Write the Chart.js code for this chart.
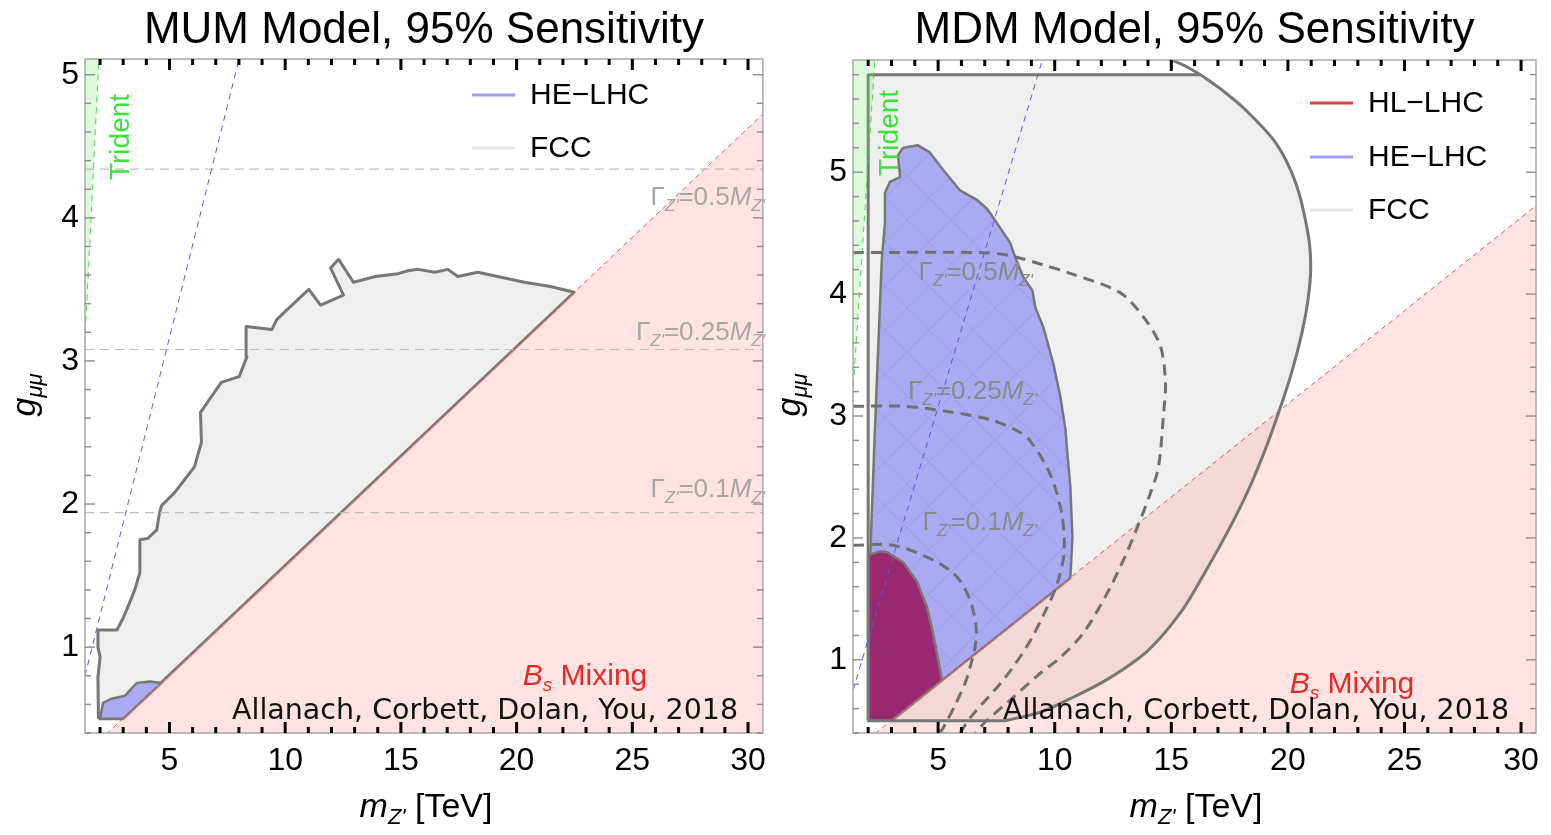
<!DOCTYPE html>
<html><head><meta charset="utf-8">
<script src="https://cdn.jsdelivr.net/npm/chart.js@4.4.1/dist/chart.umd.min.js"></script>
<style>
html,body{margin:0;padding:0;background:#fff;}
#wrap{position:relative;width:1551px;height:835px;overflow:hidden;background:#fff;}
#c1{position:absolute;left:0;top:0;}
#c2{position:absolute;left:775px;top:0;}
</style></head><body>
<div id="wrap"><canvas id="c1" width="775" height="835"></canvas><canvas id="c2" width="776" height="835"></canvas></div>
<script>
const FONT = '"Liberation Sans", Arial, sans-serif';

// ---------- axes ----------
const xRange = [1.35, 30.64];
const yRangeMUM = [0.40, 5.11];
const yRangeMDM = [0.40, 5.92];
const xTickValues = [5, 10, 15, 20, 25, 30];
const yTickValues = [1, 2, 3, 4, 5];
const titles = ['MUM Model, 95% Sensitivity', 'MDM Model, 95% Sensitivity'];
const legendMUM = ['HE\u2212LHC', 'FCC'];
const legendMDM = ['HL\u2212LHC', 'HE\u2212LHC', 'FCC'];

// ---------- MUM model (left) ----------
const mumFcc = [[1.93,0.50],[1.91,0.79],[2.00,0.93],[1.91,1.00],[1.91,1.12],[2.73,1.12],[2.99,1.20],[3.20,1.28],[3.50,1.40],[3.72,1.52],[3.72,1.75],[4.06,1.76],[4.45,1.82],[4.57,1.94],[4.66,1.99],[5.22,2.08],[5.65,2.17],[6.08,2.26],[6.38,2.43],[6.34,2.64],[7.24,2.85],[8.01,2.89],[8.35,3.03],[8.31,3.24],[9.43,3.22],[9.64,3.29],[11.02,3.50],[11.53,3.39],[12.52,3.46],[11.96,3.65],[12.31,3.71],[12.95,3.55],[13.90,3.59],[14.88,3.61],[15.31,3.63],[15.74,3.64],[16.47,3.62],[17.03,3.64],[17.46,3.59],[18.32,3.62],[19.18,3.59],[20.34,3.55],[21.46,3.52],[22.49,3.48],[3.00,0.50],[1.93,0.50]];
const mumHeLhc = [[2.00,0.50],[2.13,0.61],[2.51,0.64],[3.07,0.66],[3.59,0.75],[4.15,0.76],[4.66,0.75],[3.00,0.50],[2.00,0.50]];
const mumBs = [[2.0,0.35],[31.0,4.78]];
const mumTrident = [[1.0,5.3],[2.01,5.3],[1.35,3.15],[1.0,2.0]];
const mumHeDashed = [[1.35,0.80],[8.01,5.11]];
const mumWidth05 = [[1.35,4.34],[30.64,4.34]];
const mumWidth025 = [[1.35,3.08],[30.64,3.08]];
const mumWidth01 = [[1.35,1.94],[30.64,1.94]];

// ---------- MDM model (right) ----------
const mdmFcc = [[2.0,0.50],[2.0,5.80],[2.0,5.80],[16.25,5.80],[16.25,5.80],[17.20,5.67],[18.19,5.51],[19.48,5.24],[20.34,4.91],[20.86,4.50],[20.98,4.22],[20.86,3.95],[20.60,3.68],[20.15,3.35],[19.64,3.05],[19.02,2.72],[18.30,2.39],[17.47,2.07],[16.51,1.74],[15.48,1.41],[14.02,1.08],[12.26,0.84],[10.54,0.67],[9.38,0.57],[8.09,0.51],[7.80,0.50],[7.80,0.50],[2.0,0.50]];
const mdmFccCap = [[14.60,5.95],[15.50,5.88],[16.25,5.80]];
const mdmHeLhc = [[3.50,5.20],[4.14,5.22],[4.65,5.16],[5.21,5.02],[5.94,4.85],[6.68,4.77],[7.10,4.70],[7.53,4.58],[8.09,4.42],[8.31,4.30],[8.65,4.14],[9.04,4.03],[9.17,3.89],[9.51,3.73],[9.94,3.43],[10.24,3.16],[10.46,2.89],[10.54,2.70],[10.67,2.42],[10.76,2.01],[10.67,1.67],[3.00,0.50],[2.05,0.50],[2.10,1.90],[2.29,2.89],[2.45,3.65],[2.59,4.30],[2.72,4.58],[2.72,4.83],[2.93,4.92],[3.37,4.96],[3.28,5.14],[3.50,5.20]];
const mdmHlLhc = [[2.0,1.86],[2.50,1.89],[2.85,1.88],[3.50,1.80],[4.10,1.64],[4.53,1.43],[4.78,1.22],[5.00,1.00],[5.17,0.83],[3.00,0.50],[2.0,0.50],[2.0,1.86]];
const mdmBs = [[2.0,0.35],[31.0,4.78]];
const mdmTrident = [[1.0,6.1],[2.35,6.1],[1.35,3.2],[1.0,2.0]];
const mdmHeDashed = [[1.35,0.75],[9.47,5.92]];
const mdmWidth05 = [[1.35,4.34],[7.00,4.34],[8.20,4.31],[9.50,4.24],[10.67,4.17],[12.82,4.01],[13.89,3.79],[14.54,3.57],[14.75,3.27],[14.67,3.02],[14.45,2.58],[14.11,2.37],[13.55,2.09],[12.95,1.82],[12.26,1.55],[11.23,1.22],[10.24,1.02],[9.38,0.89],[8.09,0.67],[7.02,0.49],[6.60,0.40]];
const mdmWidth025 = [[1.35,3.08],[3.50,3.08],[5.30,3.04],[7.24,2.97],[8.38,2.88],[8.93,2.80],[9.79,2.53],[10.30,2.20],[10.40,1.88],[10.10,1.62],[9.60,1.40],[8.90,1.14],[7.90,0.86],[6.40,0.53],[5.94,0.40]];
const mdmWidth01 = [[1.35,1.94],[3.07,1.94],[4.78,1.82],[5.81,1.68],[6.37,1.49],[6.63,1.27],[6.59,1.11],[6.37,0.94],[6.16,0.81],[5.73,0.63],[5.30,0.47],[5.09,0.40]];

// ---------- text ----------
const widthLabels = [
  [{t:'\u0393'},{t:"Z'",sub:1,it:1},{t:'=0.5'},{t:'M',it:1},{t:"Z'",sub:1,it:1}],
  [{t:'\u0393'},{t:"Z'",sub:1,it:1},{t:'=0.25'},{t:'M',it:1},{t:"Z'",sub:1,it:1}],
  [{t:'\u0393'},{t:"Z'",sub:1,it:1},{t:'=0.1'},{t:'M',it:1},{t:"Z'",sub:1,it:1}]
];
const bsLabel = [{t:'B',it:1},{t:'s',it:1,sub:1},{t:' Mixing'}];
const creditLabel = [{t:'Allanach, Corbett, Dolan, You, 2018'}];
const tridentLabel = [{t:'Trident'}];
const xTitle = [{t:'m',it:1},{t:"Z'",it:1,sub:1},{t:' [TeV]'}];
const yTitle = [{t:'g',it:1},{t:'\u03bc\u03bc',it:1,sub:1}];

// ---------- helpers ----------
const P = arr => arr.map(([x, y]) => ({x, y}));
function area(pts, bg, bc, bw, order, extra) {
  return Object.assign({data:P(pts), showLine:true, fill:'shape', backgroundColor:bg, borderColor:bc,
    borderWidth:bw, pointRadius:0, tension:0, order:order, borderJoinStyle:'round'}, extra || {});
}
function curve(pts, color, bw, dash, order, extra) {
  return Object.assign({data:P(pts), showLine:true, fill:false, borderColor:color, borderWidth:bw,
    borderDash:dash, pointRadius:0, tension:0, order:order, backgroundColor:'rgba(0,0,0,0)', borderJoinStyle:'round'}, extra || {});
}
function hatch(base, line) {
  const c = document.createElement('canvas'); c.width = 44; c.height = 44;
  const g = c.getContext('2d');
  g.fillStyle = base; g.fillRect(0, 0, 44, 44);
  g.strokeStyle = line; g.lineWidth = 1;
  g.beginPath(); g.moveTo(0, 44); g.lineTo(44, 0); g.moveTo(-22, 22); g.lineTo(22, -22); g.moveTo(22, 66); g.lineTo(66, 22);
  g.moveTo(0, 0); g.lineTo(44, 44); g.moveTo(-22, 22); g.lineTo(22, 66); g.moveTo(22, -22); g.lineTo(66, 22); g.stroke();
  return g.createPattern(c, 'repeat');
}
function drawRich(ctx, segs, x, y, o) {
  const size = o.size, fam = o.family || FONT, sub = Math.round(size * 0.64);
  const fontOf = s => (s.it ? 'italic ' : '') + (s.sub ? sub : size) + 'px ' + fam;
  const ws = segs.map(s => { ctx.font = fontOf(s); return ctx.measureText(s.t).width; });
  const w = ws.reduce((a, b) => a + b, 0);
  let cx = o.align === 'right' ? x - w : (o.align === 'center' ? x - w / 2 : x);
  ctx.fillStyle = o.color || '#000'; ctx.textBaseline = 'middle'; ctx.textAlign = 'left';
  segs.forEach((s, i) => { ctx.font = fontOf(s); ctx.fillText(s.t, cx, y + (s.sub ? size * 0.3 : 0)); cx += ws[i]; });
}

const frameTicks = {
  id: 'frameTicks',
  afterDatasetsDraw(chart) {
    const {ctx, chartArea: a} = chart;
    const x = chart.scales.x, y = chart.scales.y;
    ctx.save();
    ctx.strokeStyle = '#a8a8a8'; ctx.lineWidth = 1.5;
    ctx.strokeRect(a.left, a.top, a.right - a.left, a.bottom - a.top);
    const seg = (x0, y0, x1, y1) => { ctx.beginPath(); ctx.moveTo(x0, y0); ctx.lineTo(x1, y1); ctx.stroke(); };
    ctx.strokeStyle = '#000'; ctx.lineWidth = 3; ctx.lineCap = 'butt';
    for (let v = Math.ceil(x.min); v <= x.max; v += 1) {
      const px = x.getPixelForValue(v), len = v % 5 === 0 ? 11 : 6;
      seg(px, a.top, px, a.top + len); seg(px, a.bottom, px, a.bottom - len);
    }
    ctx.strokeStyle = '#8c8c8c'; ctx.lineWidth = 1.4;
    for (let k = Math.ceil(y.min / 0.2 - 1e-6); k * 0.2 <= y.max + 1e-9; k++) {
      const v = k * 0.2, py = y.getPixelForValue(v);
      const len = Math.abs(v - Math.round(v)) < 1e-6 ? 10 : 6;
      seg(a.left, py, a.left + len, py); seg(a.right, py, a.right - len, py);
    }
    ctx.restore();
  }
};

const deco = {
  id: 'deco',
  afterDraw(chart, args, o) {
    const ctx = chart.ctx, a = chart.chartArea;
    ctx.save();
    ctx.font = '44px ' + FONT; ctx.fillStyle = '#000'; ctx.textAlign = 'center'; ctx.textBaseline = 'middle';
    ctx.fillText(o.title, (a.left + a.right) / 2, o.titleY);
    o.legend.forEach(it => {
      ctx.strokeStyle = it.color; ctx.lineWidth = 3;
      ctx.beginPath(); ctx.moveTo(o.legendX, it.y); ctx.lineTo(o.legendX + 43, it.y); ctx.stroke();
      ctx.font = '30px ' + FONT; ctx.fillStyle = '#000'; ctx.textAlign = 'left'; ctx.textBaseline = 'middle';
      ctx.fillText(it.label, o.legendX + 58, it.y + 1);
    });
    o.texts.forEach(t => {
      ctx.save(); ctx.translate(t.x, t.y); if (t.rot) ctx.rotate(t.rot);
      drawRich(ctx, t.segs, 0, 0, t); ctx.restore();
    });
    ctx.restore();
  }
};

function makeChart(id, c) {
  return new Chart(document.getElementById(id), {
    type: 'scatter',
    data: {datasets: c.datasets},
    options: {
      responsive: false, animation: false, events: [],
      layout: {padding: {top: c.padTop, right: c.padRight, left: 0, bottom: 0}},
      plugins: {legend: {display: false}, tooltip: {enabled: false}, title: {display: false}, deco: c.deco},
      scales: {
        x: {type: 'linear', min: xRange[0], max: xRange[1],
            afterBuildTicks: s => { s.ticks = xTickValues.map(v => ({value: v})); },
            afterFit: s => { s.height = 102; },
            grid: {display: false, drawTicks: false}, border: {display: false},
            ticks: {font: {family: FONT, size: 32}, color: '#000', padding: 9, maxRotation: 0, autoSkip: false}},
        y: {type: 'linear', min: c.yRange[0], max: c.yRange[1],
            afterBuildTicks: s => { s.ticks = yTickValues.map(v => ({value: v})); },
            afterFit: s => { s.width = c.yAxisW; },
            grid: {display: false, drawTicks: false}, border: {display: false},
            ticks: {font: {family: FONT, size: 32}, color: '#000', padding: 6, autoSkip: false}}
      }
    },
    plugins: [frameTicks, deco]
  });
}

const GRAY = '#777777', FCCBG = '#efefef', HEBG = '#aaaaf3', HLBG = '#992a72';
const PINK = 'rgba(255,168,168,0.32)', PINKLINE = 'rgba(225,60,60,0.85)';
const TRI = 'rgba(120,235,120,0.25)', TRILINE = 'rgba(60,205,60,0.85)';

makeChart('c1', {
  padTop: 59, padRight: 8, yAxisW: 85, yRange: yRangeMUM,
  datasets: [
    area(mumFcc, FCCBG, GRAY, 3, 10),
    area(mumHeLhc, HEBG, GRAY, 2.5, 9),
    curve(mumBs, PINKLINE, 1, [5, 4], 8, {fill: 'start', backgroundColor: PINK}),
    area(mumTrident, TRI, TRILINE, 1, 7, {borderDash: [6, 5]}),
    curve(mumWidth05, '#bdbdbd', 1.2, [9, 6], 6),
    curve(mumWidth025, '#bdbdbd', 1.2, [9, 6], 6),
    curve(mumWidth01, '#bdbdbd', 1.2, [9, 6], 6),
    curve(mumHeDashed, '#5a5ae0', 1, [6, 5], 5)
  ],
  deco: {
    title: titles[0], titleY: 31, legendX: 472,
    legend: [{label: legendMUM[0], color: '#a0a0ee', y: 95}, {label: legendMUM[1], color: '#e4e4e4', y: 148}],
    texts: [
      {segs: tridentLabel, x: 121, y: 137, rot: -Math.PI / 2, size: 28, align: 'center', color: '#3ee03e'},
      {segs: widthLabels[0], x: 765, y: 198, size: 26, align: 'right', color: '#a6a6a6'},
      {segs: widthLabels[1], x: 765, y: 333, size: 26, align: 'right', color: '#a6a6a6'},
      {segs: widthLabels[2], x: 765, y: 490, size: 26, align: 'right', color: '#a6a6a6'},
      {segs: bsLabel, x: 585, y: 677, size: 30, align: 'center', color: '#e62a2a'},
      {segs: creditLabel, x: 232, y: 712, size: 28.5, align: 'left', color: '#111', family: '"DejaVu Sans", sans-serif'},
      {segs: xTitle, x: 426, y: 808, size: 34, align: 'center', color: '#000'},
      {segs: yTitle, x: 26, y: 395, rot: -Math.PI / 2, size: 34, align: 'center', color: '#000'}
    ]
  }
});

const HEPAT = hatch(HEBG, 'rgba(120,120,215,0.32)');
makeChart('c2', {
  padTop: 60, padRight: 15, yAxisW: 78, yRange: yRangeMDM,
  datasets: [
    area(mdmFcc, FCCBG, 'rgba(0,0,0,0)', 0, 12, {tension: 0.3}),
    area(mdmHeLhc, HEPAT, GRAY, 2.5, 11),
    area(mdmHlLhc, HLBG, GRAY, 2.5, 10),
    curve(mdmBs, PINKLINE, 1, [5, 4], 9, {fill: 'start', backgroundColor: PINK}),
    curve(mdmFcc, GRAY, 3, [], 8.5, {tension: 0.3}),
    curve(mdmFccCap, GRAY, 3, [], 8.5, {tension: 0.3}),
    area(mdmTrident, TRI, TRILINE, 1, 8, {borderDash: [6, 5]}),
    curve(mdmWidth05, '#707070', 3, [11, 7], 7, {tension: 0.3}),
    curve(mdmWidth025, '#707070', 3, [11, 7], 7, {tension: 0.3}),
    curve(mdmWidth01, '#707070', 3, [11, 7], 7, {tension: 0.3}),
    curve(mdmHeDashed, '#5a5ae0', 1, [6, 5], 6)
  ],
  deco: {
    title: titles[1], titleY: 31, legendX: 535,
    legend: [{label: legendMDM[0], color: '#dd4444', y: 103}, {label: legendMDM[1], color: '#a0a0ee', y: 157}, {label: legendMDM[2], color: '#e4e4e4', y: 210}],
    texts: [
      {segs: tridentLabel, x: 115, y: 133, rot: -Math.PI / 2, size: 28, align: 'center', color: '#3ee03e'},
      {segs: widthLabels[0], x: 258, y: 273, size: 26, align: 'right', color: '#8a8a8a'},
      {segs: widthLabels[1], x: 262, y: 392, size: 26, align: 'right', color: '#8a8a8a'},
      {segs: widthLabels[2], x: 262, y: 523, size: 26, align: 'right', color: '#8a8a8a'},
      {segs: bsLabel, x: 577, y: 685, size: 30, align: 'center', color: '#e62a2a'},
      {segs: creditLabel, x: 228, y: 712, size: 28.5, align: 'left', color: '#111', family: '"DejaVu Sans", sans-serif'},
      {segs: xTitle, x: 421, y: 808, size: 34, align: 'center', color: '#000'},
      {segs: yTitle, x: 16, y: 395, rot: -Math.PI / 2, size: 34, align: 'center', color: '#000'}
    ]
  }
});
</script>
</body></html>
